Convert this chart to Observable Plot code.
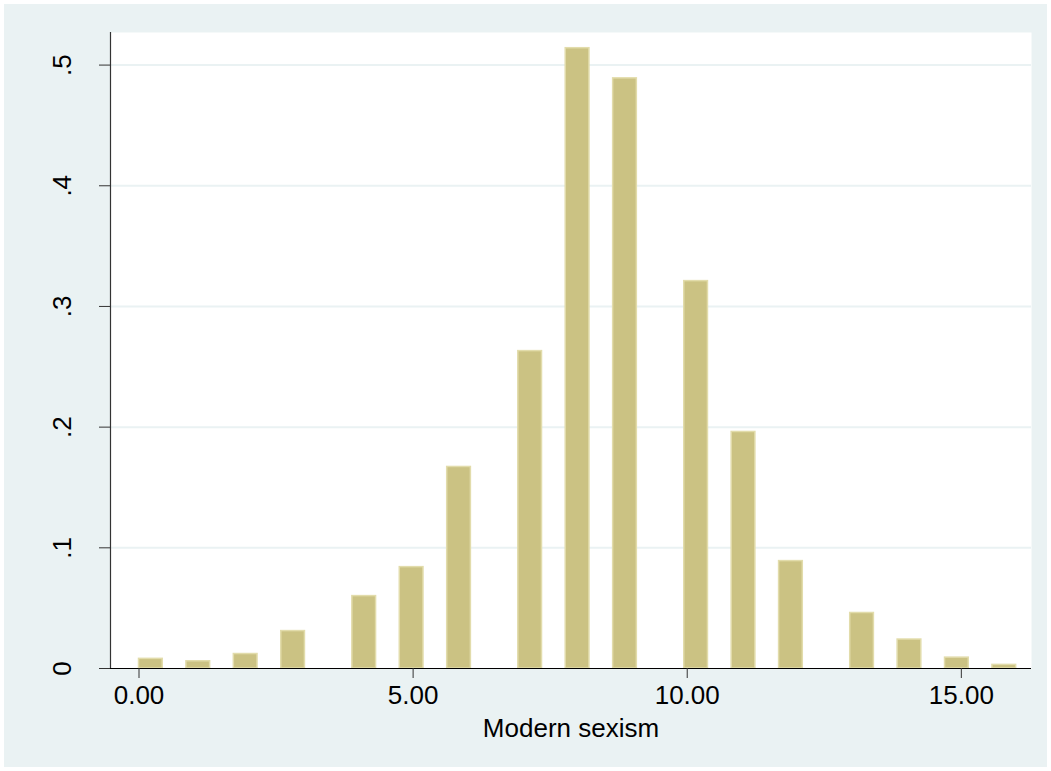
<!DOCTYPE html>
<html>
<head>
<meta charset="utf-8">
<script src="https://cdn.jsdelivr.net/npm/d3@7"></script>
<script src="https://cdn.jsdelivr.net/npm/@observablehq/plot@0.6"></script>
<style>
  html, body { margin: 0; padding: 0; background: #ffffff; }
  #chart { padding: 4px; width: 1043px; }
  #chart svg { display: block; background: #eaf2f3; }
</style>
</head>
<body>
<div id="chart"></div>
<script>
// Modern sexism scores (integer values) and histogram density per value
const scores  = [0, 1, 2, 3, 4, 5, 6, 7, 8, 9, 10, 11, 12, 13, 14, 15, 16];
const density = [0.008, 0.006, 0.012, 0.031, 0.060, 0.084, 0.167, 0.263, 0.514, 0.489, 0.321, 0.196, 0.089, 0.046, 0.024, 0.009, 0.003];
const xMin = 0, xMax = 16, binCount = 37;
const xTicks = [0, 5, 10, 15];
const yTicks = [0, 0.1, 0.2, 0.3, 0.4, 0.5];
const xTitle = "Modern sexism";

const binWidth = (xMax - xMin) / binCount;
const bars = scores.map((v, i) => {
  const b = Math.min(Math.floor((v - xMin) / binWidth), binCount - 1);
  return {x1: xMin + b * binWidth, x2: xMin + (b + 1) * binWidth, y: density[i]};
});

const font = "'Liberation Sans', Arial, sans-serif";
const fs = 26;
const chart = Plot.plot({
  width: 1043,
  height: 763,
  marginLeft: 106,
  marginRight: 16,
  marginTop: 28,
  marginBottom: 99,
  style: {fontFamily: font, fontSize: fs + "px", color: "#000", background: "#eaf2f3"},
  x: {domain: [-0.52, 16.28]},
  y: {domain: [0, 0.527]},
  marks: [
    Plot.frame({fill: "#ffffff", stroke: null}),
    Plot.ruleY(yTicks.filter(d => d > 0), {stroke: "#eaf2f3", strokeWidth: 2}),
    Plot.rectY(bars, {x1: "x1", x2: "x2", y: "y", fill: "#cbc283", stroke: "#e2dcab", strokeWidth: 1.5}),
    Plot.axisY({ticks: yTicks, tickSize: 11, stroke: "#333", tickFormat: () => "", label: null}),
    Plot.text(yTicks, {
      y: d => d, frameAnchor: "left", dx: -48, rotate: -90,
      text: d => d === 0 ? "0" : String(d).replace(/^0/, ""),
      textAnchor: "middle", lineAnchor: "middle", fontSize: fs, fill: "#000"
    }),
    Plot.ruleX([-0.52], {stroke: "#333", strokeWidth: 1.2}),
    Plot.ruleY([0], {stroke: "#000", strokeWidth: 1.2}),
    Plot.axisX({ticks: xTicks, tickSize: 10, tickPadding: 7, stroke: "#333",
      tickFormat: d => d.toFixed(2), label: null, fontSize: fs, fill: "#000"}),
    Plot.text([xTitle], {frameAnchor: "bottom", dy: 60, text: d => d, lineAnchor: "middle", fontSize: fs, fill: "#000"})
  ]
});
document.getElementById("chart").appendChild(chart);
</script>
</body>
</html>
